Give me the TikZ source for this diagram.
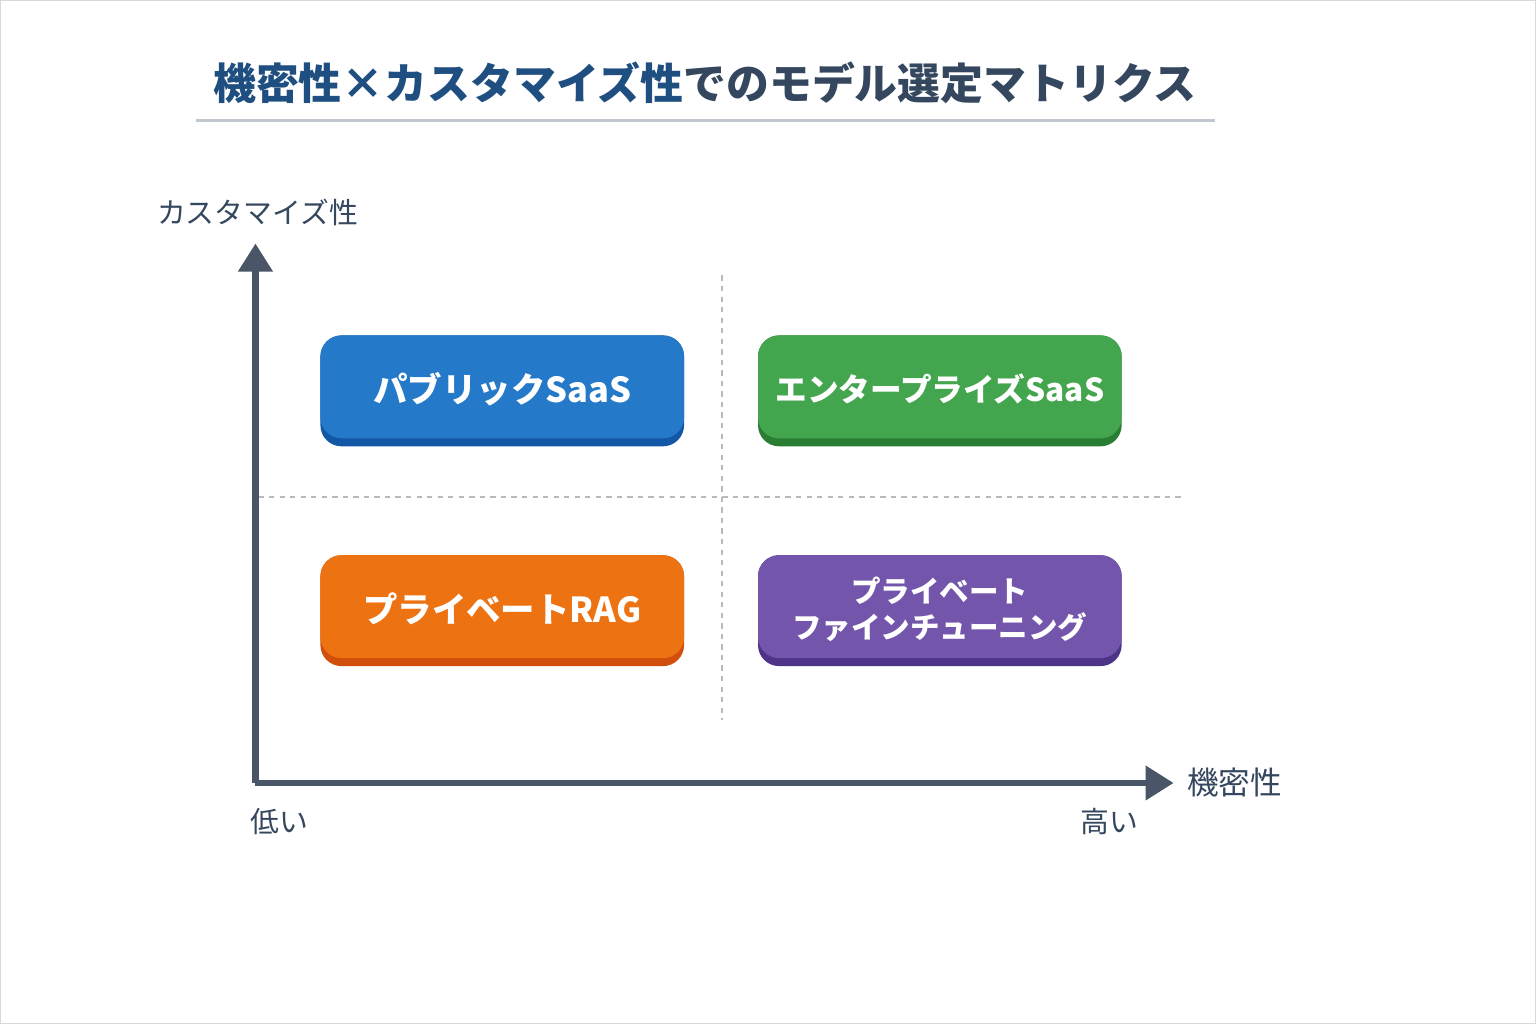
\documentclass[tikz,border=0pt]{standalone}
\usepackage{fontspec}
\newfontfamily\jp{Noto Sans CJK JP}
\usetikzlibrary{positioning, arrows.meta}
\definecolor{titleblue}{HTML}{1F4E80}
\definecolor{titlegray}{HTML}{34475E}
\definecolor{axisgray}{HTML}{4A5568}
\definecolor{cblue}{HTML}{2479C8}
\definecolor{cbluedk}{HTML}{1358A6}
\definecolor{cgreen}{HTML}{43A64E}
\definecolor{cgreendk}{HTML}{2A7E33}
\definecolor{corange}{HTML}{EC7212}
\definecolor{corangedk}{HTML}{D24E0C}
\definecolor{cpurple}{HTML}{7356AC}
\definecolor{cpurpledk}{HTML}{4E3488}

\begin{document}
\begin{tikzpicture}[x=0.01cm, y=-0.01cm,
  axislabel/.style={font=\jp\fontsize{8.2pt}{10pt}\selectfont, text=titlegray},
  guide/.style={gray!55, line width=0.6pt, dash pattern=on 1.5pt off 1.5pt},
  boxtext/.style={font=\jp\bfseries\fontsize{#1}{1.2\dimexpr#1\relax}\selectfont, text=white, align=center},
  boxtext/.default=9.8pt]
  % Background and frame
  \useasboundingbox[fill=white, draw=gray!30] (0,0) rectangle (1536,1024);

  % Title
  \node[anchor=west, inner sep=0pt] (title) at (212,82)
    {\jp\bfseries\fontsize{12.2pt}{14pt}\selectfont\textcolor{titleblue}{機密性×カスタマイズ性}\textcolor{titlegray}{でのモデル選定マトリクス}};
  \draw[titlegray!30, line width=0.8pt] (195,120) -- (1215,120);

  % Quadrant guides
  \draw[guide] (722,275) -- (722,720);
  \draw[guide] (258,497) -- (1183,497);

  % Axes
  \coordinate (origin) at (255,783);
  \coordinate (ytip) at (255,243);
  \coordinate (xtip) at (1174,783);
  \draw[axisgray, line width=1.8pt, -{Triangle[length=8pt, width=9.5pt]}] (origin) -- (ytip);
  \draw[axisgray, line width=1.8pt, -{Triangle[length=8pt, width=9.5pt]}] (origin) -- (xtip);
  \node[axislabel] (ylab) at (257,212) {カスタマイズ性};
  \node[axislabel, font=\jp\fontsize{9pt}{11pt}\selectfont] (xlab) at (1235,783) {機密性};
  \node[axislabel] (low) at (279,822) {低い};
  \node[axislabel] (high) at (1110,822) {高い};

  % Quadrant boxes
  \foreach \x/\y/\col/\name/\fs/\txt in {
      320/335/cblue/pub/9.8pt/パブリックSaaS,
      758/335/cgreen/ent/9pt/エンタープライズSaaS,
      320/555/corange/rag/9.8pt/プライベートRAG,
      758/555/cpurple/ft/8.4pt/{プライベート\\ファインチューニング}} {
    \fill[\col dk, rounded corners=6pt] (\x,\y) rectangle ++(364,111);
    \fill[\col, rounded corners=6pt] (\x,\y) rectangle ++(364,103);
    \node[boxtext=\fs] (\name) at (\x+182,\y+54) {\txt};
  }
\end{tikzpicture}
\end{document}
